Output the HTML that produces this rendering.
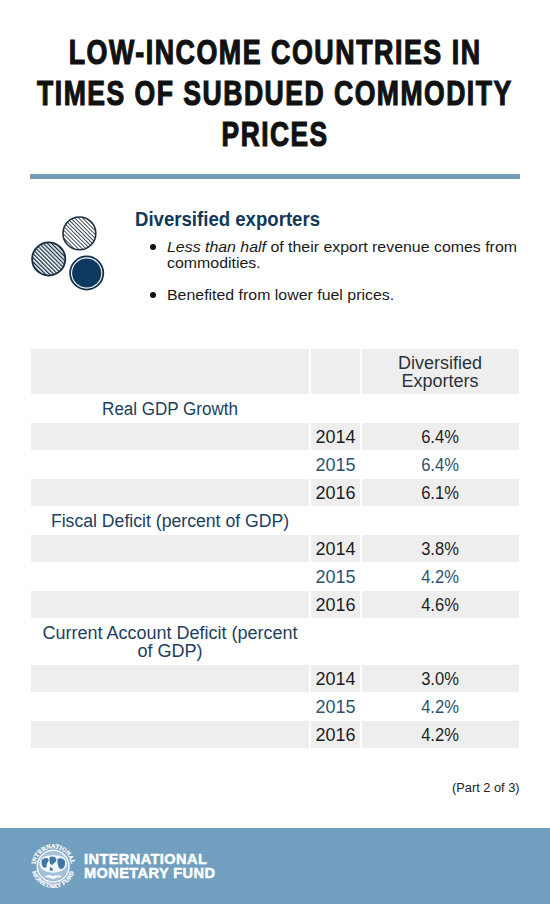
<!DOCTYPE html>
<html><head><meta charset="utf-8">
<style>
html,body{margin:0;padding:0;background:#fff;}
body{width:550px;height:904px;position:relative;overflow:hidden;font-family:"Liberation Sans",sans-serif;}
.a{position:absolute;white-space:nowrap;}
.t{font-weight:bold;font-size:35.5px;line-height:38px;color:#111;-webkit-text-stroke:1.2px #111;letter-spacing:2px;left:-225px;width:1000px;text-align:center;}
.t span{display:inline-block;transform:scaleX(0.81);transform-origin:50% 50%;}
.rule{position:absolute;left:30px;top:174px;width:490px;height:5px;background:#749cb9;}
.h{left:135px;top:209px;font-weight:bold;font-size:20px;line-height:20px;color:#12385a;transform:scaleX(0.93);transform-origin:0 0;}
.b{font-size:15px;line-height:15px;color:#1a1a1a;left:167px;transform:scaleX(1.06);transform-origin:0 0;}
.dot{position:absolute;width:6px;height:6px;border-radius:50%;background:#111;}
.g{position:absolute;background:#eeeeee;}
.c{font-size:18px;line-height:18px;text-align:center;}
.k{color:#1c1f22;}
.bl{color:#2b5372;}
.lab{color:#1c405f;}
.pc{transform:scaleX(0.92);}
.foot{position:absolute;left:0;top:828px;width:550px;height:76px;background:#729ebf;}
.ft{font-weight:bold;font-size:14px;line-height:14px;color:#fff;left:84px;-webkit-text-stroke:0.45px #fff;letter-spacing:0.4px;transform:scaleX(1.04);transform-origin:0 0;}
</style></head><body>
<div class="a t" style="top:33px"><span style="transform:scaleX(0.756)">LOW-INCOME COUNTRIES IN</span></div>
<div class="a t" style="top:74px"><span style="transform:scaleX(0.748)">TIMES OF SUBDUED COMMODITY</span></div>
<div class="a t" style="top:115px"><span style="transform:scaleX(0.742)">PRICES</span></div>
<div class="rule"></div>

<svg class="a" style="left:0;top:190px" width="130" height="120" viewBox="0 190 130 120">
<defs>
<pattern id="hat1" patternUnits="userSpaceOnUse" width="2.75" height="2.75" patternTransform="rotate(-45)">
<rect width="2.75" height="2.75" fill="#fff"/><rect x="0" y="0" width="0.85" height="2.75" fill="#1e3040"/>
</pattern>
<pattern id="hat2" patternUnits="userSpaceOnUse" width="2.9" height="2.9" patternTransform="rotate(-45)">
<rect width="2.9" height="2.9" fill="#fff"/><rect x="0" y="0" width="1.3" height="2.9" fill="#172d44"/>
</pattern>
</defs>
<circle cx="79.4" cy="233.4" r="16.4" fill="url(#hat1)" stroke="#1b2f42" stroke-width="1.6"/>
<circle cx="48.7" cy="259" r="16.6" fill="url(#hat2)" stroke="#172d44" stroke-width="1.8"/>
<circle cx="86.7" cy="273" r="16.6" fill="#fff" stroke="#12304a" stroke-width="1.8"/>
<circle cx="86.7" cy="273" r="14.6" fill="#0e3a5f"/>
</svg>

<div class="a h">Diversified exporters</div>
<div class="dot" style="left:150px;top:244px"></div>
<div class="a b" style="top:239px"><i>Less than half</i> of their export revenue comes from</div>
<div class="a b" style="top:255px">commodities.</div>
<div class="dot" style="left:150px;top:292px"></div>
<div class="a b" style="top:287px">Benefited from lower fuel prices.</div>

<!-- table -->
<div class="g" style="left:31px;top:349px;width:278px;height:45px"></div>
<div class="g" style="left:311px;top:349px;width:49px;height:45px"></div>
<div class="g" style="left:362px;top:349px;width:157px;height:45px"></div>
<div class="a c k" style="left:361px;width:158px;top:354px;line-height:18px;color:#2a333b">Diversified<br>Exporters</div>

<div class="a c lab" style="left:31px;width:278px;top:400px;transform:scaleX(0.945)">Real GDP Growth</div>
<div class="g" style="left:31px;top:423px;width:278px;height:27px"></div>
<div class="g" style="left:311px;top:423px;width:49px;height:27px"></div>
<div class="g" style="left:362px;top:423px;width:157px;height:27px"></div>
<div class="a c k" style="left:311px;width:49px;top:428px">2014</div>
<div class="a c k pc" style="left:361px;width:158px;top:428px">6.4%</div>
<div class="a c bl" style="left:311px;width:49px;top:456px">2015</div>
<div class="a c bl pc" style="left:361px;width:158px;top:456px">6.4%</div>
<div class="g" style="left:31px;top:479px;width:278px;height:27px"></div>
<div class="g" style="left:311px;top:479px;width:49px;height:27px"></div>
<div class="g" style="left:362px;top:479px;width:157px;height:27px"></div>
<div class="a c k" style="left:311px;width:49px;top:484px">2016</div>
<div class="a c k pc" style="left:361px;width:158px;top:484px">6.1%</div>

<div class="a c lab" style="left:31px;width:278px;top:512px;transform:scaleX(0.98)">Fiscal Deficit (percent of GDP)</div>
<div class="g" style="left:31px;top:535px;width:278px;height:27px"></div>
<div class="g" style="left:311px;top:535px;width:49px;height:27px"></div>
<div class="g" style="left:362px;top:535px;width:157px;height:27px"></div>
<div class="a c k" style="left:311px;width:49px;top:540px">2014</div>
<div class="a c k pc" style="left:361px;width:158px;top:540px">3.8%</div>
<div class="a c bl" style="left:311px;width:49px;top:568px">2015</div>
<div class="a c bl pc" style="left:361px;width:158px;top:568px">4.2%</div>
<div class="g" style="left:31px;top:591px;width:278px;height:27px"></div>
<div class="g" style="left:311px;top:591px;width:49px;height:27px"></div>
<div class="g" style="left:362px;top:591px;width:157px;height:27px"></div>
<div class="a c k" style="left:311px;width:49px;top:596px">2016</div>
<div class="a c k pc" style="left:361px;width:158px;top:596px">4.6%</div>

<div class="a c lab" style="left:31px;width:278px;top:624px">Current Account Deficit (percent<br>of GDP)</div>
<div class="g" style="left:31px;top:665px;width:278px;height:27px"></div>
<div class="g" style="left:311px;top:665px;width:49px;height:27px"></div>
<div class="g" style="left:362px;top:665px;width:157px;height:27px"></div>
<div class="a c k" style="left:311px;width:49px;top:670px">2014</div>
<div class="a c k pc" style="left:361px;width:158px;top:670px">3.0%</div>
<div class="a c bl" style="left:311px;width:49px;top:698px">2015</div>
<div class="a c bl pc" style="left:361px;width:158px;top:698px">4.2%</div>
<div class="g" style="left:31px;top:721px;width:278px;height:27px"></div>
<div class="g" style="left:311px;top:721px;width:49px;height:27px"></div>
<div class="g" style="left:362px;top:721px;width:157px;height:27px"></div>
<div class="a c k" style="left:311px;width:49px;top:726px">2016</div>
<div class="a c k pc" style="left:361px;width:158px;top:726px">4.2%</div>

<div class="a" style="left:452px;top:781px;font-size:13px;line-height:13px;color:#222;transform:scaleX(0.985);transform-origin:0 0">(Part 2 of 3)</div>

<div class="foot"></div>
<svg class="a" style="left:26px;top:838px" width="56" height="56" viewBox="26 838 56 56">
<defs>
<path id="arcTop" d="M 35.67 869.23 A 17.8 17.8 0 1 1 70.73 869.23"/>
<path id="arcBot" d="M 31.60 866.20 A 21.6 21.6 0 0 0 74.80 866.20"/>
</defs>
<g fill="#fff" stroke="#fff" stroke-width="0.25" font-family="Liberation Serif" font-weight="bold">
<text font-size="6.1"><textPath href="#arcTop" startOffset="50%" text-anchor="middle">INTERNATIONAL</textPath></text>
<text font-size="6.1" letter-spacing="0.2"><textPath href="#arcBot" startOffset="50%" text-anchor="middle">MONETARY FUND</textPath></text>
</g>
<circle cx="53.2" cy="866.2" r="15.8" fill="none" stroke="#f4f8fb" stroke-width="1.7"/>
<circle cx="53.2" cy="866.2" r="14.6" fill="#a4c1d9"/>
<path d="M39.6 862.5 Q40.5 855 53.2 855.3 Q65.9 855 66.8 862.5 Q67.5 871.5 53.2 872.8 Q38.9 871.5 39.6 862.5 Z" fill="#f1f6fa"/>
<path d="M42 859.5 q3 -2.5 6 -1 q1.5 1.8 -0.5 4 q-1.5 2 -0.8 4.5 q-2.5 2 -4.2 -0.8 q-1.8 -3 -0.5 -6.7z M49.5 857.2 q3.2 -1.3 5.8 0.2 q2.2 2.5 0 4.5 q-1.8 1.5 -3.2 3.2 q-2.5 -0.8 -2.6 -3.5 q0 -2.6 0 -4.4z M57.5 858.8 q4.5 -1.5 7 1.5 q1.5 3.8 -0.8 7.5 q-3.5 3 -5.2 -0.8 q-1.5 -4 -1 -8.2z M50 867 q2.5 0.5 3.2 2.8 q-1.6 2 -3.5 0.2z" fill="#3f77a6"/>
<path d="M44.5 876.5 q4 -2.2 8.7 -0.6 q4.7 -1.6 8.7 0.6 q-2 1.4 -5 0.8 q-1.8 1.8 -3.7 1.6 q-1.9 0.2 -3.7 -1.6 q-3 0.6 -5 -0.8z" fill="#fff"/>
</svg>
<div class="a ft" style="top:852px">INTERNATIONAL</div>
<div class="a ft" style="top:866px">MONETARY FUND</div>
</body></html>
